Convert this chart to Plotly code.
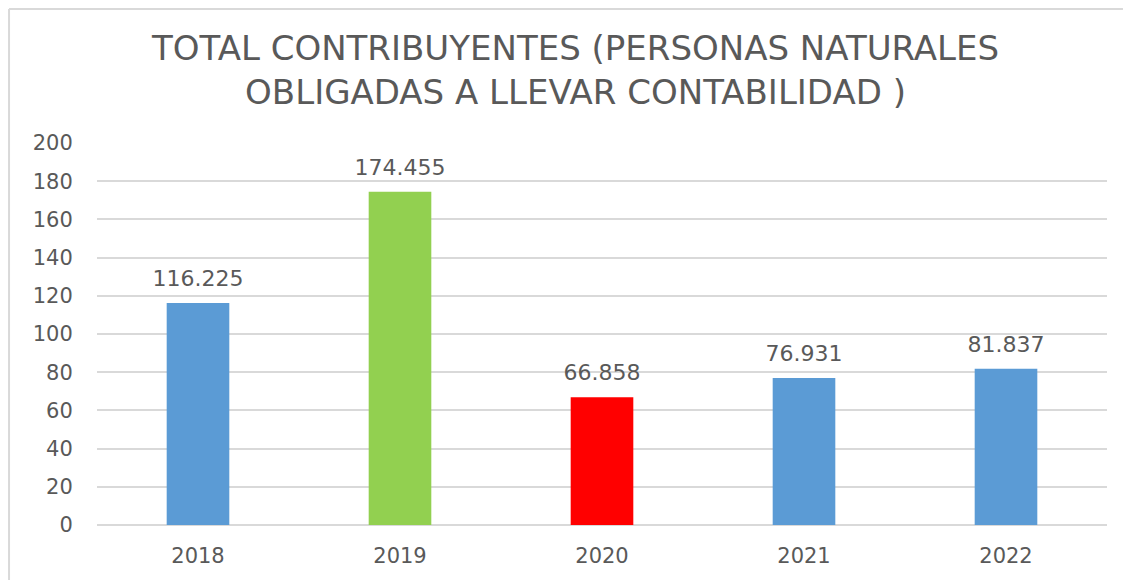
import plotly.graph_objects as go

years = ["2018", "2019", "2020", "2021", "2022"]
values = [116.225, 174.455, 66.858, 76.931, 81.837]
labels = ["116.225", "174.455", "66.858", "76.931", "81.837"]
colors = ["#5B9BD5", "#92D050", "#FF0000", "#5B9BD5", "#5B9BD5"]
yticks = [0, 20, 40, 60, 80, 100, 120, 140, 160, 180, 200]
title_text = "TOTAL CONTRIBUYENTES (PERSONAS NATURALES<br>OBLIGADAS A LLEVAR CONTABILIDAD )"

font = "DejaVu Sans"
gray = "#595959"

pos = list(range(len(years)))

fig = go.Figure()
fig.add_trace(go.Bar(
    x=pos, y=values, width=[0.31] * len(pos),
    marker=dict(color=colors, line=dict(width=0)),
    hoverinfo="skip",
))
fig.add_trace(go.Scatter(
    x=pos, y=[v + 6 for v in values], mode="text", text=labels,
    textposition="top center", hoverinfo="skip",
    textfont=dict(family=font, size=22, color=gray),
))

fig.add_annotation(xref="paper", yref="paper", x=0.473, y=1.191, xanchor="center",
                   yanchor="middle", text=title_text, showarrow=False,
                   font=dict(family=font, size=34, color=gray))

fig.update_layout(
    width=1132, height=580,
    margin=dict(l=89, r=33, t=135, b=63),
    paper_bgcolor="white", plot_bgcolor="white",
    showlegend=False,
    font=dict(family=font, color=gray),
)
fig.update_yaxes(range=[0, 200], tickvals=yticks, showgrid=True,
                 gridcolor="#D9D9D9", gridwidth=1.5, zeroline=True,
                 zerolinecolor="#D9D9D9", zerolinewidth=1.5, showline=False,
                 ticks="outside", ticklen=19, tickcolor="rgba(0,0,0,0)",
                 tickfont=dict(family=font, size=21, color=gray), fixedrange=True)
fig.update_xaxes(range=[-0.5, len(years) - 0.5], tickvals=pos, ticktext=years,
                 showgrid=False, showline=False, zeroline=False,
                 ticks="outside", ticklen=12, tickcolor="rgba(0,0,0,0)",
                 tickfont=dict(family=font, size=21, color=gray), fixedrange=True)

# chart frame border
fig.add_shape(type="line", xref="paper", yref="paper", x0=-0.0871, x1=1.0158,
              y0=1.351, y1=1.351, line=dict(color="#D9D9D9", width=2))
fig.add_shape(type="line", xref="paper", yref="paper", x0=-0.0871, x1=-0.0871,
              y0=1.351, y1=-0.2, line=dict(color="#D9D9D9", width=2))

fig.write_html("out.html")
